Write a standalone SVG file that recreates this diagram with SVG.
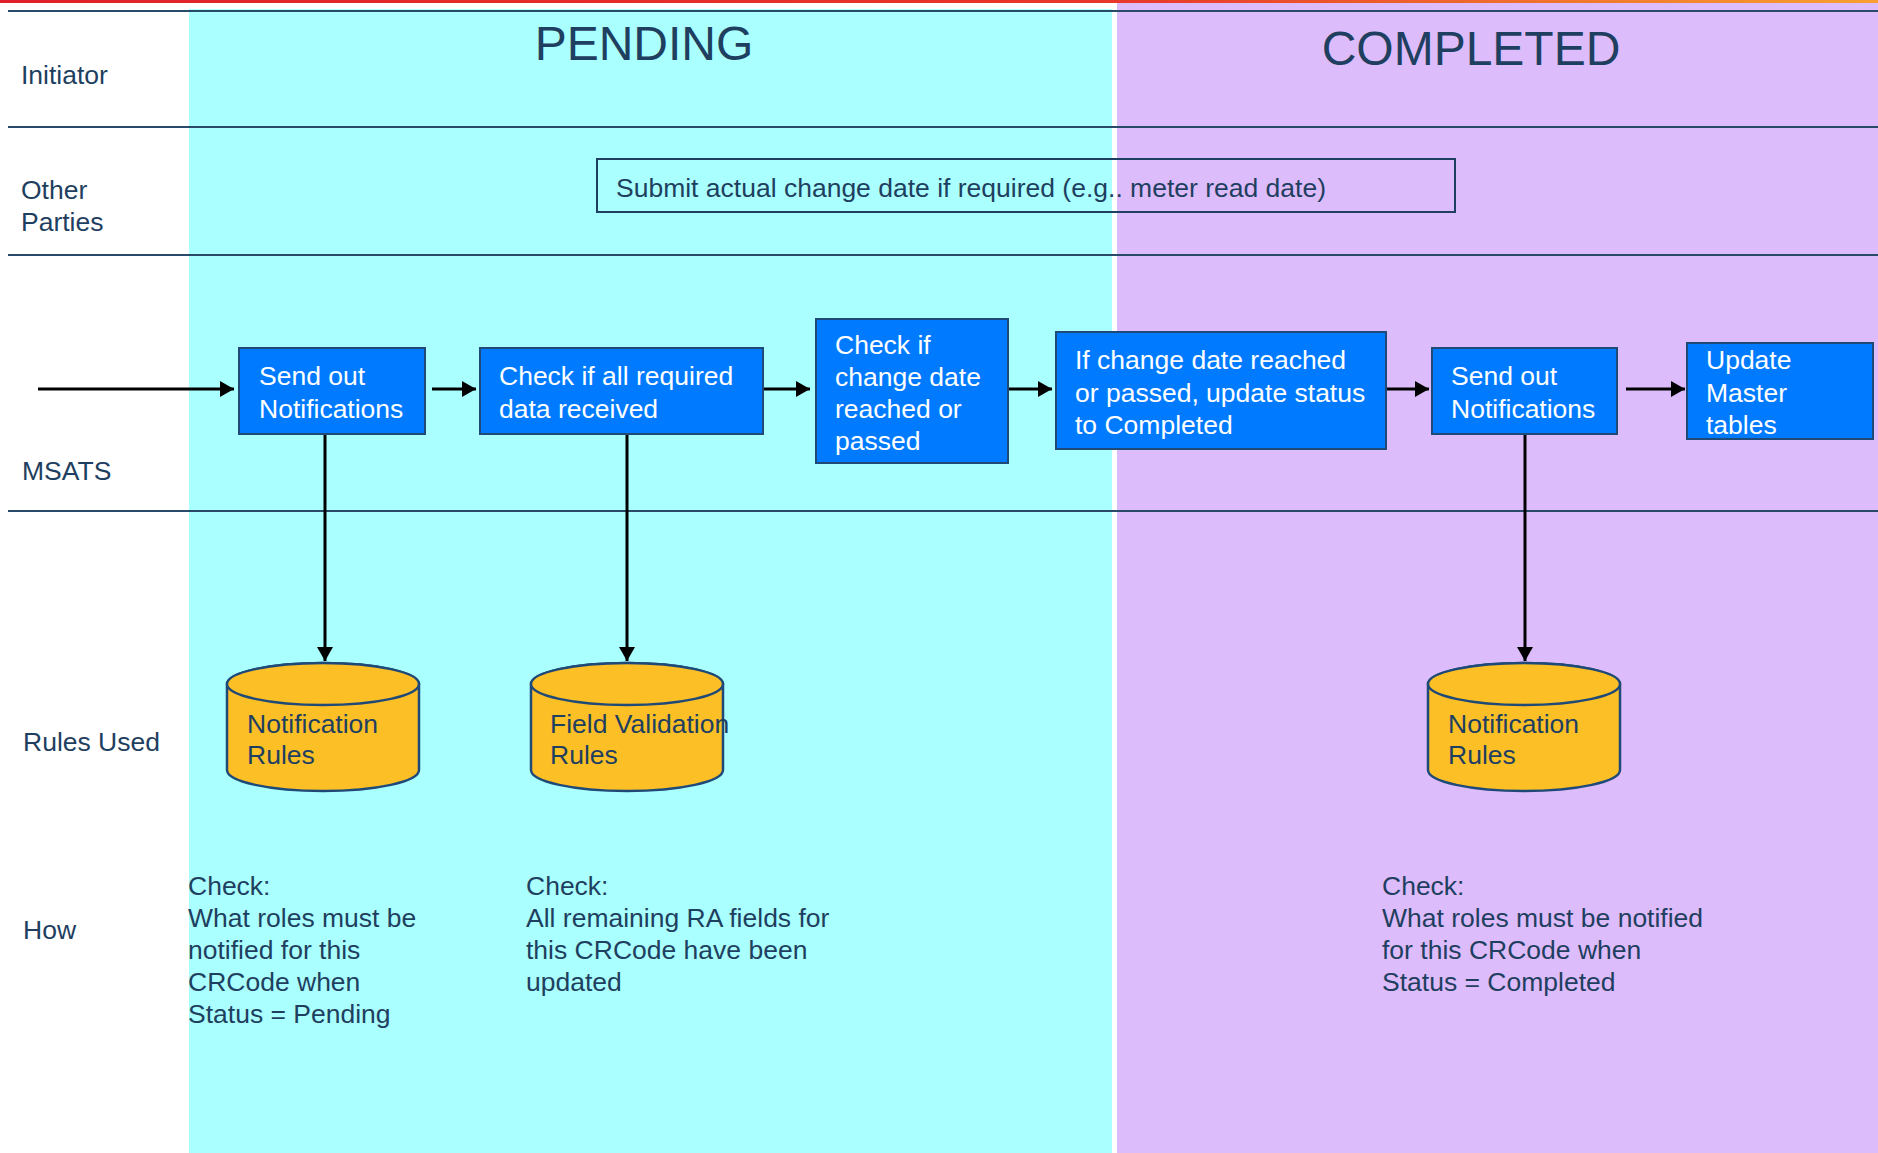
<svg xmlns="http://www.w3.org/2000/svg" width="1878" height="1153" viewBox="0 0 1878 1153">
<defs>
<linearGradient id="topbar" x1="0" y1="0" x2="1" y2="0">
<stop offset="0" stop-color="#E0202A"/>
<stop offset="0.6" stop-color="#E8382A"/>
<stop offset="1" stop-color="#F7A030"/>
</linearGradient>
<marker id="arr" markerUnits="userSpaceOnUse" markerWidth="15" markerHeight="16" refX="14" refY="8" orient="auto">
<path d="M0,0 L14,8 L0,16 z" fill="#000"/>
</marker>
<style>
.t{font-family:"Liberation Sans",Arial,sans-serif;font-size:26.5px;fill:#1F3F60}
.w{font-family:"Liberation Sans",Arial,sans-serif;font-size:26.5px;fill:#FFFFFF}
.title{font-family:"Liberation Sans",Arial,sans-serif;font-size:48px;fill:#1F3F60;text-anchor:middle}
.lane{stroke:#2A4A6A;stroke-width:2;fill:none}
.box{fill:#007BFF;stroke:#1F4A78;stroke-width:2}
.cyl{fill:#FCBF26;stroke:#1F4A78;stroke-width:2.5}
.conn{stroke:#000;stroke-width:3;fill:none;marker-end:url(#arr)}
</style>
</defs>
<rect width="1878" height="1153" fill="#FFFFFF"/>
<rect x="0" y="0" width="1878" height="3" fill="url(#topbar)"/>
<rect id="pending-band" x="189" y="9" width="923" height="1144" fill="#AAFFFF"/>
<rect id="completed-band" x="1117" y="3" width="761" height="1150" fill="#DDBCFC"/>
<g id="lanes">
<line class="lane" x1="8" y1="11" x2="1878" y2="11"/>
<line class="lane" x1="8" y1="127" x2="1878" y2="127"/>
<line class="lane" x1="8" y1="255" x2="1878" y2="255"/>
<line class="lane" x1="8" y1="511" x2="1878" y2="511"/>
</g>
<g id="lane-labels">
<text class="t" x="21" y="84">Initiator</text>
<text class="t" x="21" y="199">Other</text>
<text class="t" x="21" y="231">Parties</text>
<text class="t" x="22" y="480">MSATS</text>
<text class="t" x="23" y="751">Rules Used</text>
<text class="t" x="23" y="939">How</text>
</g>
<g id="titles">
<text class="title" x="644" y="60">PENDING</text>
<text class="title" x="1471" y="65">COMPLETED</text>
</g>
<g id="submit">
<rect x="597" y="159" width="858" height="53" fill="none" stroke="#1F3F60" stroke-width="2"/>
<text class="t" x="616" y="197">Submit actual change date if required (e.g.. meter read date)</text>
</g>
<g id="connectors">
<line class="conn" x1="38" y1="389" x2="234" y2="389"/>
<line class="conn" x1="432" y1="389" x2="476" y2="389"/>
<line class="conn" x1="764" y1="389" x2="810" y2="389"/>
<line class="conn" x1="1008" y1="389" x2="1052" y2="389"/>
<line class="conn" x1="1385" y1="389" x2="1429" y2="389"/>
<line class="conn" x1="1626" y1="389" x2="1685" y2="389"/>
<line class="conn" x1="325" y1="434" x2="325" y2="661"/>
<line class="conn" x1="627" y1="434" x2="627" y2="661"/>
<line class="conn" x1="1525" y1="434" x2="1525" y2="661"/>
</g>
<g id="send1">
<rect class="box" x="239" y="348" width="186" height="86"/>
<text class="w" x="259" y="385">Send out</text>
<text class="w" x="259" y="418">Notifications</text>
</g>
<g id="check-data">
<rect class="box" x="480" y="348" width="283" height="86"/>
<text class="w" x="499" y="385">Check if all required</text>
<text class="w" x="499" y="418">data received</text>
</g>
<g id="check-date">
<rect class="box" x="816" y="319" width="192" height="144"/>
<text class="w" x="835" y="354">Check if</text>
<text class="w" x="835" y="386">change date</text>
<text class="w" x="835" y="418">reached or</text>
<text class="w" x="835" y="450">passed</text>
</g>
<g id="update-status">
<rect class="box" x="1056" y="332" width="330" height="117"/>
<text class="w" x="1075" y="369">If change date reached</text>
<text class="w" x="1075" y="402">or passed, update status</text>
<text class="w" x="1075" y="434">to Completed</text>
</g>
<g id="send2">
<rect class="box" x="1432" y="348" width="185" height="86"/>
<text class="w" x="1451" y="385">Send out</text>
<text class="w" x="1451" y="418">Notifications</text>
</g>
<g id="update-master">
<rect class="box" x="1687" y="343" width="186" height="96"/>
<text class="w" x="1706" y="369">Update</text>
<text class="w" x="1706" y="402">Master</text>
<text class="w" x="1706" y="434">tables</text>
</g>
<g id="rules1">
<path class="cyl" d="M227,684 L227,770 A96,21 0 0 0 419,770 L419,684 A96,21 0 0 0 227,684 Z"/>
<ellipse class="cyl" cx="323" cy="684" rx="96" ry="21"/>
<text class="t" x="247" y="733">Notification</text>
<text class="t" x="247" y="764">Rules</text>
</g>
<g id="rules2">
<path class="cyl" d="M531,684 L531,770 A96,21 0 0 0 723,770 L723,684 A96,21 0 0 0 531,684 Z"/>
<ellipse class="cyl" cx="627" cy="684" rx="96" ry="21"/>
<text class="t" x="550" y="733">Field Validation</text>
<text class="t" x="550" y="764">Rules</text>
</g>
<g id="rules3">
<path class="cyl" d="M1428,684 L1428,770 A96,21 0 0 0 1620,770 L1620,684 A96,21 0 0 0 1428,684 Z"/>
<ellipse class="cyl" cx="1524" cy="684" rx="96" ry="21"/>
<text class="t" x="1448" y="733">Notification</text>
<text class="t" x="1448" y="764">Rules</text>
</g>
<g id="how1">
<text class="t" x="188" y="895">Check:</text>
<text class="t" x="188" y="927">What roles must be</text>
<text class="t" x="188" y="959">notified for this</text>
<text class="t" x="188" y="991">CRCode when</text>
<text class="t" x="188" y="1023">Status = Pending</text>
</g>
<g id="how2">
<text class="t" x="526" y="895">Check:</text>
<text class="t" x="526" y="927">All remaining RA fields for</text>
<text class="t" x="526" y="959">this CRCode have been</text>
<text class="t" x="526" y="991">updated</text>
</g>
<g id="how3">
<text class="t" x="1382" y="895">Check:</text>
<text class="t" x="1382" y="927">What roles must be notified</text>
<text class="t" x="1382" y="959">for this CRCode when</text>
<text class="t" x="1382" y="991">Status = Completed</text>
</g>
</svg>
